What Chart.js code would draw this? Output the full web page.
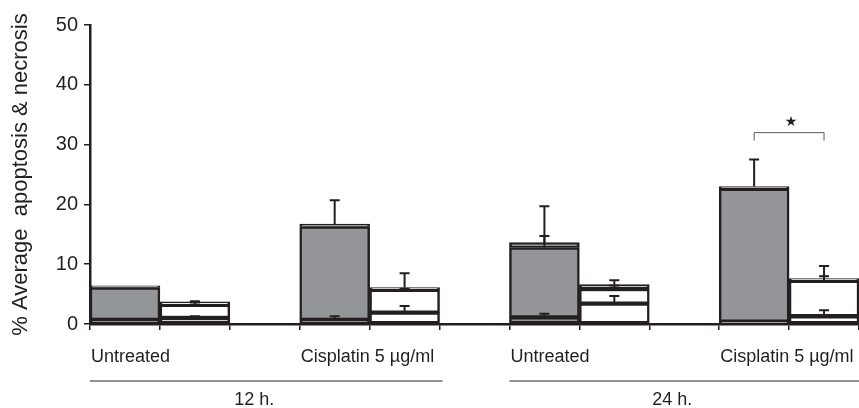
<!DOCTYPE html>
<html>
<head>
<meta charset="utf-8">
<script src="https://cdn.jsdelivr.net/npm/chart.js@4.4.0/dist/chart.umd.min.js"></script>
<style>
  html, body { margin: 0; padding: 0; background: #fff; }
  #wrap { width: 859px; height: 408px; }
</style>
</head>
<body>
<div id="wrap"><canvas id="apoChart"></canvas></div>
<script>
// 11 slots: gray / white pairs with an empty gap between the groups
var slots = ['12U-g', '12U-w', '', '12C-g', '12C-w', '', '24U-g', '24U-w', '', '24C-g', '24C-w'];
var isGray = [true, false, null, true, false, null, true, false, null, true, false];

// stacked segments (bottom, middle, top) in %
var segBottom = [0.7, 1.0, null, 0.7, 1.9, null, 1.1, 3.4, null, 0.4, 1.3];
var segMiddle = [5.4, 2.2, null, 15.6, 3.8, null, 11.7, 2.45, null, 22.2, 5.9];
var segTop = [0.3, 0.5, null, 0.4, 0.4, null, 0.8, 0.75, null, 0.4, 0.4];

// upper error bars for each segment
var errBottom = [0, 0.3, null, 0.6, 1.1, null, 0.6, 1.3, null, 0, 1.0];
var errMiddle = [0, 0.4, null, 0, 0.2, null, 1.9, 0.6, null, 0, 0.8];
var errTop = [0, 0.1, null, 4.0, 2.4, null, 6.1, 0.7, null, 4.5, 2.1];

var yTicks = [0, 10, 20, 30, 40, 50];

// category labels start at slot index
var catLabels = ['Untreated', 'Cisplatin 5 \u00b5g/ml', 'Untreated', 'Cisplatin 5 \u00b5g/ml'];
var catStart = [0, 3, 6, 9];

// time groups: [first slot, end slot]
var groupLabels = ['12 h.', '24 h.'];
var groupSpan = [[0, 5], [6, 11]];

// significance: [slot a, slot b, level]
var sigPairs = [[9, 10, 32]];

var FONT = '"Liberation Sans", Arial, sans-serif';
var INK = '#231f20';
var GRAY = '#939598';

function fills() {
  return isGray.map(function(g) { return g ? GRAY : '#ffffff'; });
}

var errSets = [errBottom, errMiddle, errTop];

var extras = {
  id: 'extras',
  afterDatasetsDraw: function(chart) {
    var ctx = chart.ctx;
    var ys = chart.scales.y;
    ctx.save();
    ctx.strokeStyle = INK;
    ctx.lineWidth = 2;
    chart.data.datasets.forEach(function(ds, di) {
      var meta = chart.getDatasetMeta(di);
      meta.data.forEach(function(el, j) {
        var e = errSets[di][j];
        if (ds.data[j] == null || !e) return;
        var base = 0;
        for (var k = 0; k <= di; k++) base += chart.data.datasets[k].data[j];
        var top = ys.getPixelForValue(base);
        var cap = ys.getPixelForValue(base + e);
        ctx.beginPath();
        ctx.moveTo(el.x, top);
        ctx.lineTo(el.x, cap);
        ctx.moveTo(el.x - 5, cap);
        ctx.lineTo(el.x + 5, cap);
        ctx.stroke();
      });
    });
    ctx.restore();
  },
  afterDraw: function(chart) {
    var ctx = chart.ctx;
    var xs = chart.scales.x;
    var ys = chart.scales.y;
    var slot = (xs.right - xs.left) / slots.length;
    ctx.save();

    // category labels
    ctx.fillStyle = INK;
    ctx.font = '18px ' + FONT;
    ctx.textAlign = 'left';
    ctx.textBaseline = 'middle';
    catLabels.forEach(function(t, i) {
      ctx.fillText(t, xs.getPixelForValue(catStart[i]) - slot / 2 + 1, 357);
    });

    // group lines and labels
    groupLabels.forEach(function(t, i) {
      var x0 = xs.getPixelForValue(groupSpan[i][0]) - slot / 2;
      var x1 = Math.min(xs.getPixelForValue(groupSpan[i][1]) - slot / 2 + 3, chart.width);
      ctx.strokeStyle = '#6d6e71';
      ctx.lineWidth = 1.5;
      ctx.beginPath();
      ctx.moveTo(x0, 381);
      ctx.lineTo(x1, 381);
      ctx.stroke();
      ctx.fillStyle = INK;
      ctx.textAlign = 'center';
      ctx.fillText(t, (x0 + x1) / 2 - 12, 400);
    });

    // significance bracket
    sigPairs.forEach(function(p) {
      var xa = xs.getPixelForValue(p[0]);
      var xb = xs.getPixelForValue(p[1]);
      var yl = ys.getPixelForValue(p[2]);
      ctx.strokeStyle = '#58595b';
      ctx.lineWidth = 1;
      ctx.beginPath();
      ctx.moveTo(xa, yl + 8);
      ctx.lineTo(xa, yl);
      ctx.lineTo(xb, yl);
      ctx.lineTo(xb, yl + 8);
      ctx.stroke();
      ctx.fillStyle = INK;
      ctx.font = '14px "DejaVu Sans", sans-serif';
      ctx.textAlign = 'center';
      ctx.fillText('\u2605', (xa + xb) / 2 + 2, yl - 10);
    });
    ctx.restore();
  }
};

function segDataset(data) {
  return {
    data: data,
    backgroundColor: fills(),
    borderColor: INK,
    borderWidth: 2.5,
    borderSkipped: false,
    barPercentage: 1,
    categoryPercentage: 1
  };
}

new Chart(document.getElementById('apoChart').getContext('2d'), {
  type: 'bar',
  data: {
    labels: slots,
    datasets: [segDataset(segBottom), segDataset(segMiddle), segDataset(segTop)]
  },
  options: {
    responsive: true,
    maintainAspectRatio: false,
    animation: false,
    layout: { padding: { top: 25, right: 0, left: 0, bottom: 0 } },
    plugins: { legend: { display: false }, tooltip: { enabled: false } },
    scales: {
      x: {
        stacked: true,
        grid: { offset: true, drawOnChartArea: false, drawTicks: true, tickLength: 6, color: INK, lineWidth: 1.5 },
        border: { display: true, color: INK, width: 2.5 },
        ticks: { callback: function() { return ''; } },
        afterFit: function(s) { s.height = 84; }
      },
      y: {
        stacked: true,
        min: 0,
        max: 50,
        afterBuildTicks: function(s) { s.ticks = yTicks.map(function(v) { return { value: v }; }); },
        grid: { drawOnChartArea: false, drawTicks: true, tickLength: 6, color: INK, lineWidth: 1.5 },
        border: { display: true, color: INK, width: 2.5 },
        ticks: { color: INK, padding: 6, font: { family: FONT, size: 20 } },
        title: {
          display: true,
          text: '% Average  apoptosis & necrosis',
          color: INK,
          font: { family: FONT, size: 22 },
          padding: { top: 8, bottom: 0 }
        },
        afterFit: function(s) { s.width = 90; }
      }
    }
  },
  plugins: [extras]
});
</script>
</body>
</html>
